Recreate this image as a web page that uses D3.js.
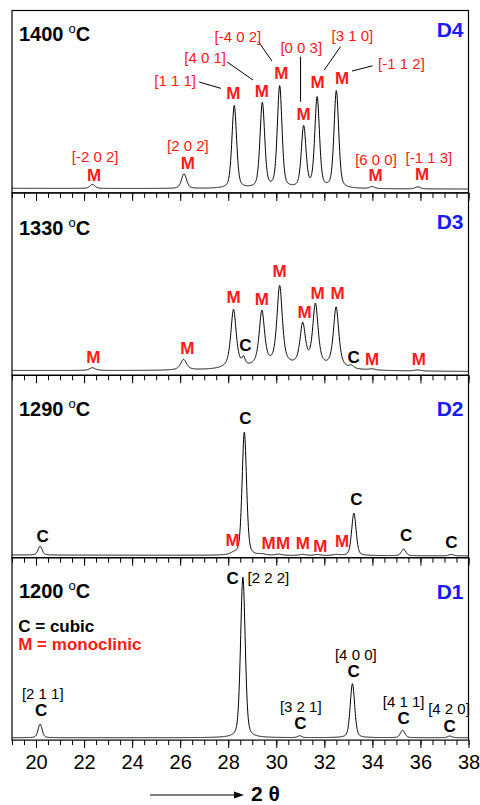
<!DOCTYPE html>
<html>
<head>
<meta charset="utf-8">
<script src="https://cdn.jsdelivr.net/npm/d3@7"></script>
<style>
  body { margin: 0; background: #fff; }
  text { font-family: "Liberation Sans", Arial, sans-serif; }
</style>
</head>
<body>
<script>
// 2-theta ticks
var xTicks = [20, 22, 24, 26, 28, 30, 32, 34, 36, 38];

var panelIds = ["D4", "D3", "D2", "D1"];
var temperatures = ["1400", "1330", "1290", "1200"];
// background level [at 19, at 38]
var backgrounds = [[2.5, 2.1], [2.6, 2.0], [1.5, 1.0], [1.3, 1.3]];
// lorentz fraction of the peak profile
var etas = [0.4, 0.7, 0.35, 0.35];

// peaks: [2theta, height, fwhm]
var peaksD4 = [
  [22.35, 2.2, 0.25], [26.16, 8.0, 0.25], [28.25, 45.3, 0.23], [29.42, 46.6, 0.23],
  [30.14, 55.7, 0.23], [31.14, 33.4, 0.23], [31.70, 49.4, 0.23], [32.50, 53.3, 0.23],
  [33.99, 1.1, 0.25], [35.89, 1.1, 0.25]
];
var peaksD3 = [
  [22.35, 1.5, 0.3], [26.14, 5.8, 0.3], [28.22, 32.2, 0.27], [28.64, 4.0, 0.15],
  [29.40, 30.2, 0.27], [30.14, 43.7, 0.27], [31.10, 22.7, 0.27], [31.63, 34.0, 0.27],
  [32.49, 33.4, 0.27], [33.13, 1.5, 0.2], [33.99, 0.6, 0.3], [35.89, 0.6, 0.3],
  [30.30, 2.0, 4.5]
];
var peaksD2 = [
  [20.17, 4.9, 0.2], [28.25, 1.0, 0.35], [28.67, 67.5, 0.22], [29.42, 0.5, 0.3],
  [30.10, 0.6, 0.3], [31.10, 0.6, 0.3], [31.70, 0.5, 0.3], [32.50, 0.5, 0.3],
  [33.23, 23.3, 0.22], [35.30, 3.6, 0.22], [37.28, 0.8, 0.22]
];
var peaksD1 = [
  [20.17, 7.4, 0.2], [28.61, 88.0, 0.23], [30.97, 1.0, 0.2], [33.17, 29.6, 0.22],
  [35.26, 4.1, 0.22], [37.22, 0.9, 0.22]
];
var peakSets = [peaksD4, peaksD3, peaksD2, peaksD1];

// annotations: [text, 2theta, level, kind]  kind: M / C / hr (red hkl) / hb (black hkl)
var labelsD4 = [
  ["[-2 0 2]", 22.46, 19.7, "hr"], ["M", 22.42, 9.8, "M"],
  ["[2 0 2]", 26.32, 25.9, "hr"], ["M", 26.32, 16.4, "M"],
  ["[1 1 1]", 25.79, 61.3, "hr"], ["M", 28.21, 54.8, "M"],
  ["[4 0 1]", 27.04, 74.0, "hr"], ["M", 29.40, 56.0, "M"],
  ["[-4 0 2]", 28.40, 85.6, "hr"], ["M", 30.21, 65.9, "M"],
  ["[0 0 3]", 31.04, 79.6, "hr"], ["M", 31.14, 43.1, "M"],
  ["[3 1 0]", 33.17, 86.2, "hr"], ["M", 31.72, 61.0, "M"],
  ["[-1 1 2]", 35.21, 71.1, "hr"], ["M", 32.74, 62.8, "M"],
  ["[6 0 0]", 34.15, 18.4, "hr"], ["M", 34.13, 9.8, "M"],
  ["[-1 1 3]", 36.35, 19.5, "hr"], ["M", 36.07, 10.4, "M"]
];
var leadersD4 = [
  [26.79, 60.8, 27.70, 57.3], [27.95, 71.8, 29.03, 61.9], [29.26, 82.9, 29.82, 72.3],
  [31.01, 74.7, 31.01, 50.0], [32.67, 80.2, 32.00, 67.4], [34.01, 69.7, 33.15, 66.8]
];
var labelsD3 = [
  ["M", 22.39, 10.2, "M"], ["M", 26.30, 15.1, "M"], ["M", 28.22, 42.8, "M"],
  ["C", 28.71, 16.6, "C"], ["M", 29.40, 41.7, "M"], ["M", 30.14, 57.2, "M"],
  ["M", 31.18, 34.5, "M"], ["M", 31.72, 45.0, "M"], ["M", 32.55, 45.0, "M"],
  ["C", 33.22, 10.2, "C"], ["M", 33.99, 8.8, "M"], ["M", 35.93, 8.8, "M"]
];
var labelsD2 = [
  ["C", 20.28, 11.9, "C"], ["M", 28.18, 9.7, "M"], ["C", 28.71, 76.8, "C"],
  ["M", 29.68, 8.2, "M"], ["M", 30.28, 8.2, "M"], ["M", 31.10, 8.2, "M"],
  ["M", 31.83, 6.6, "M"], ["M", 32.74, 9.3, "M"], ["C", 33.33, 32.2, "C"],
  ["C", 35.40, 12.4, "C"], ["C", 37.29, 8.8, "C"]
];
var labelsD1 = [
  ["[2 1 1]", 20.28, 25.5, "hb"], ["C", 20.21, 16.8, "C"],
  ["C", 28.18, 89.0, "C"], ["[2 2 2]", 29.67, 89.0, "hb"],
  ["[3 2 1]", 31.02, 18.3, "hb"], ["C", 31.00, 9.2, "C"],
  ["[4 0 0]", 33.31, 46.7, "hb"], ["C", 33.22, 37.9, "C"],
  ["[4 1 1]", 35.30, 21.2, "hb"], ["C", 35.30, 12.4, "C"],
  ["[4 2 0]", 37.19, 17.1, "hb"], ["C", 37.21, 8.0, "C"]
];
var labelSets = [labelsD4, labelsD3, labelsD2, labelsD1];
var leaderSets = [leadersD4, [], [], []];
var tempLevels = [87.2, 80.6, 81.9, 82.0];
var idLevels = [89.5, 84.2, 81.9, 81.4];

var width = 480, height = 805;
var left = 12, right = 468.5, top0 = 10.5, panelH = 182.4;
var RED = "#ff1a1a", BLUE = "#1a1aff";

var svg = d3.select("body").append("svg")
    .attr("width", width)
    .attr("height", height);

var x = d3.scaleLinear().domain([19, 38]).range([left, right]);

function profile(t, p, eta) {
    var d = (t - p[0]) / p[2];
    var lor = 1 / (1 + 4 * d * d);
    var gau = Math.exp(-4 * Math.LN2 * d * d);
    return p[1] * (eta * lor + (1 - eta) * gau);
}

var grid = d3.range(19, 38.0001, 0.01);

panelIds.forEach(function (id, i) {
    var top = top0 + i * panelH;
    var y = d3.scaleLinear().domain([0, 100]).range([top + panelH, top]);
    var g = svg.append("g");

    var bg = backgrounds[i];
    var pts = grid.map(function (t) {
        var v = bg[0] + (bg[1] - bg[0]) * (t - 19) / 19;
        peakSets[i].forEach(function (p) { v += profile(t, p, etas[i]); });
        return [t, v];
    });

    g.append("path")
        .datum(pts)
        .attr("fill", "none")
        .attr("stroke", "#000")
        .attr("stroke-width", 1)
        .attr("d", d3.line().x(function (d) { return x(d[0]); }).y(function (d) { return y(d[1]); }));

    // ticks on bottom edge
    var minor = g.append("g")
        .attr("transform", "translate(0," + (top + panelH) + ")")
        .call(d3.axisBottom(x).tickValues(d3.range(19, 38.01, 0.5)).tickSize(5).tickFormat(""));
    minor.select(".domain").remove();
    var major = g.append("g")
        .attr("transform", "translate(0," + (top + panelH) + ")")
        .call(d3.axisBottom(x).tickValues(xTicks).tickSize(8).tickPadding(7)
            .tickFormat(i === 3 ? d3.format("d") : ""));
    major.select(".domain").remove();
    g.selectAll(".tick line").attr("stroke", "#000");
    major.selectAll("text")
        .attr("font-size", 20)
        .attr("fill", "#000")
        .attr("font-family", "'Liberation Sans', Arial, sans-serif");

    // frame
    g.append("rect")
        .attr("x", left).attr("y", top)
        .attr("width", right - left).attr("height", panelH)
        .attr("fill", "none").attr("stroke", "#000").attr("stroke-width", 1.2);

    // temperature
    var tt = g.append("text")
        .attr("x", x(19.29))
        .attr("y", y(tempLevels[i]))
        .attr("dy", "0.36em")
        .attr("font-size", 20)
        .attr("font-weight", "bold")
        .text(temperatures[i]);
    tt.append("tspan").attr("dx", 5).attr("dy", -8).attr("font-size", 13).attr("font-weight", "normal").text("o");
    tt.append("tspan").attr("dy", 8).text("C");

    g.append("text")
        .attr("x", 463.5)
        .attr("y", y(idLevels[i]))
        .attr("dy", "0.36em")
        .attr("text-anchor", "end")
        .attr("font-size", 21)
        .attr("font-weight", "bold")
        .attr("fill", BLUE)
        .text(id);

    g.selectAll(".lead")
        .data(leaderSets[i])
        .enter().append("line")
        .attr("x1", function (d) { return x(d[0]); })
        .attr("y1", function (d) { return y(d[1]); })
        .attr("x2", function (d) { return x(d[2]); })
        .attr("y2", function (d) { return y(d[3]); })
        .attr("stroke", "#000")
        .attr("stroke-width", 1);

    g.selectAll(".lbl")
        .data(labelSets[i])
        .enter().append("text")
        .attr("x", function (d) { return x(d[1]); })
        .attr("y", function (d) { return y(d[2]); })
        .attr("dy", "0.36em")
        .attr("text-anchor", "middle")
        .attr("font-size", function (d) { return d[3] === "M" || d[3] === "C" ? 17 : 15; })
        .attr("font-weight", function (d) { return d[3] === "M" || d[3] === "C" ? "bold" : "normal"; })
        .attr("fill", function (d) { return d[3] === "M" || d[3] === "hr" ? RED : "#000"; })
        .text(function (d) { return d[0]; });

    if (i === 3) {
        g.append("text")
            .attr("x", x(19.26)).attr("y", y(62.6)).attr("dy", "0.36em")
            .attr("font-size", 17).attr("font-weight", "bold")
            .text("C = cubic");
        g.append("text")
            .attr("x", x(19.26)).attr("y", y(52.5)).attr("dy", "0.36em")
            .attr("font-size", 17).attr("font-weight", "bold").attr("fill", RED)
            .text("M = monoclinic");
    }
});

// axis title with arrow
svg.append("line")
    .attr("x1", 150).attr("y1", 795).attr("x2", 236).attr("y2", 795)
    .attr("stroke", "#000").attr("stroke-width", 1);
svg.append("path")
    .attr("d", "M244,795 L234,791.5 L234,798.5 Z")
    .attr("fill", "#000");
svg.append("text")
    .attr("x", 251).attr("y", 800.5)
    .attr("font-size", 21)
    .attr("font-weight", "bold")
    .text("2 θ");
</script>
</body>
</html>
